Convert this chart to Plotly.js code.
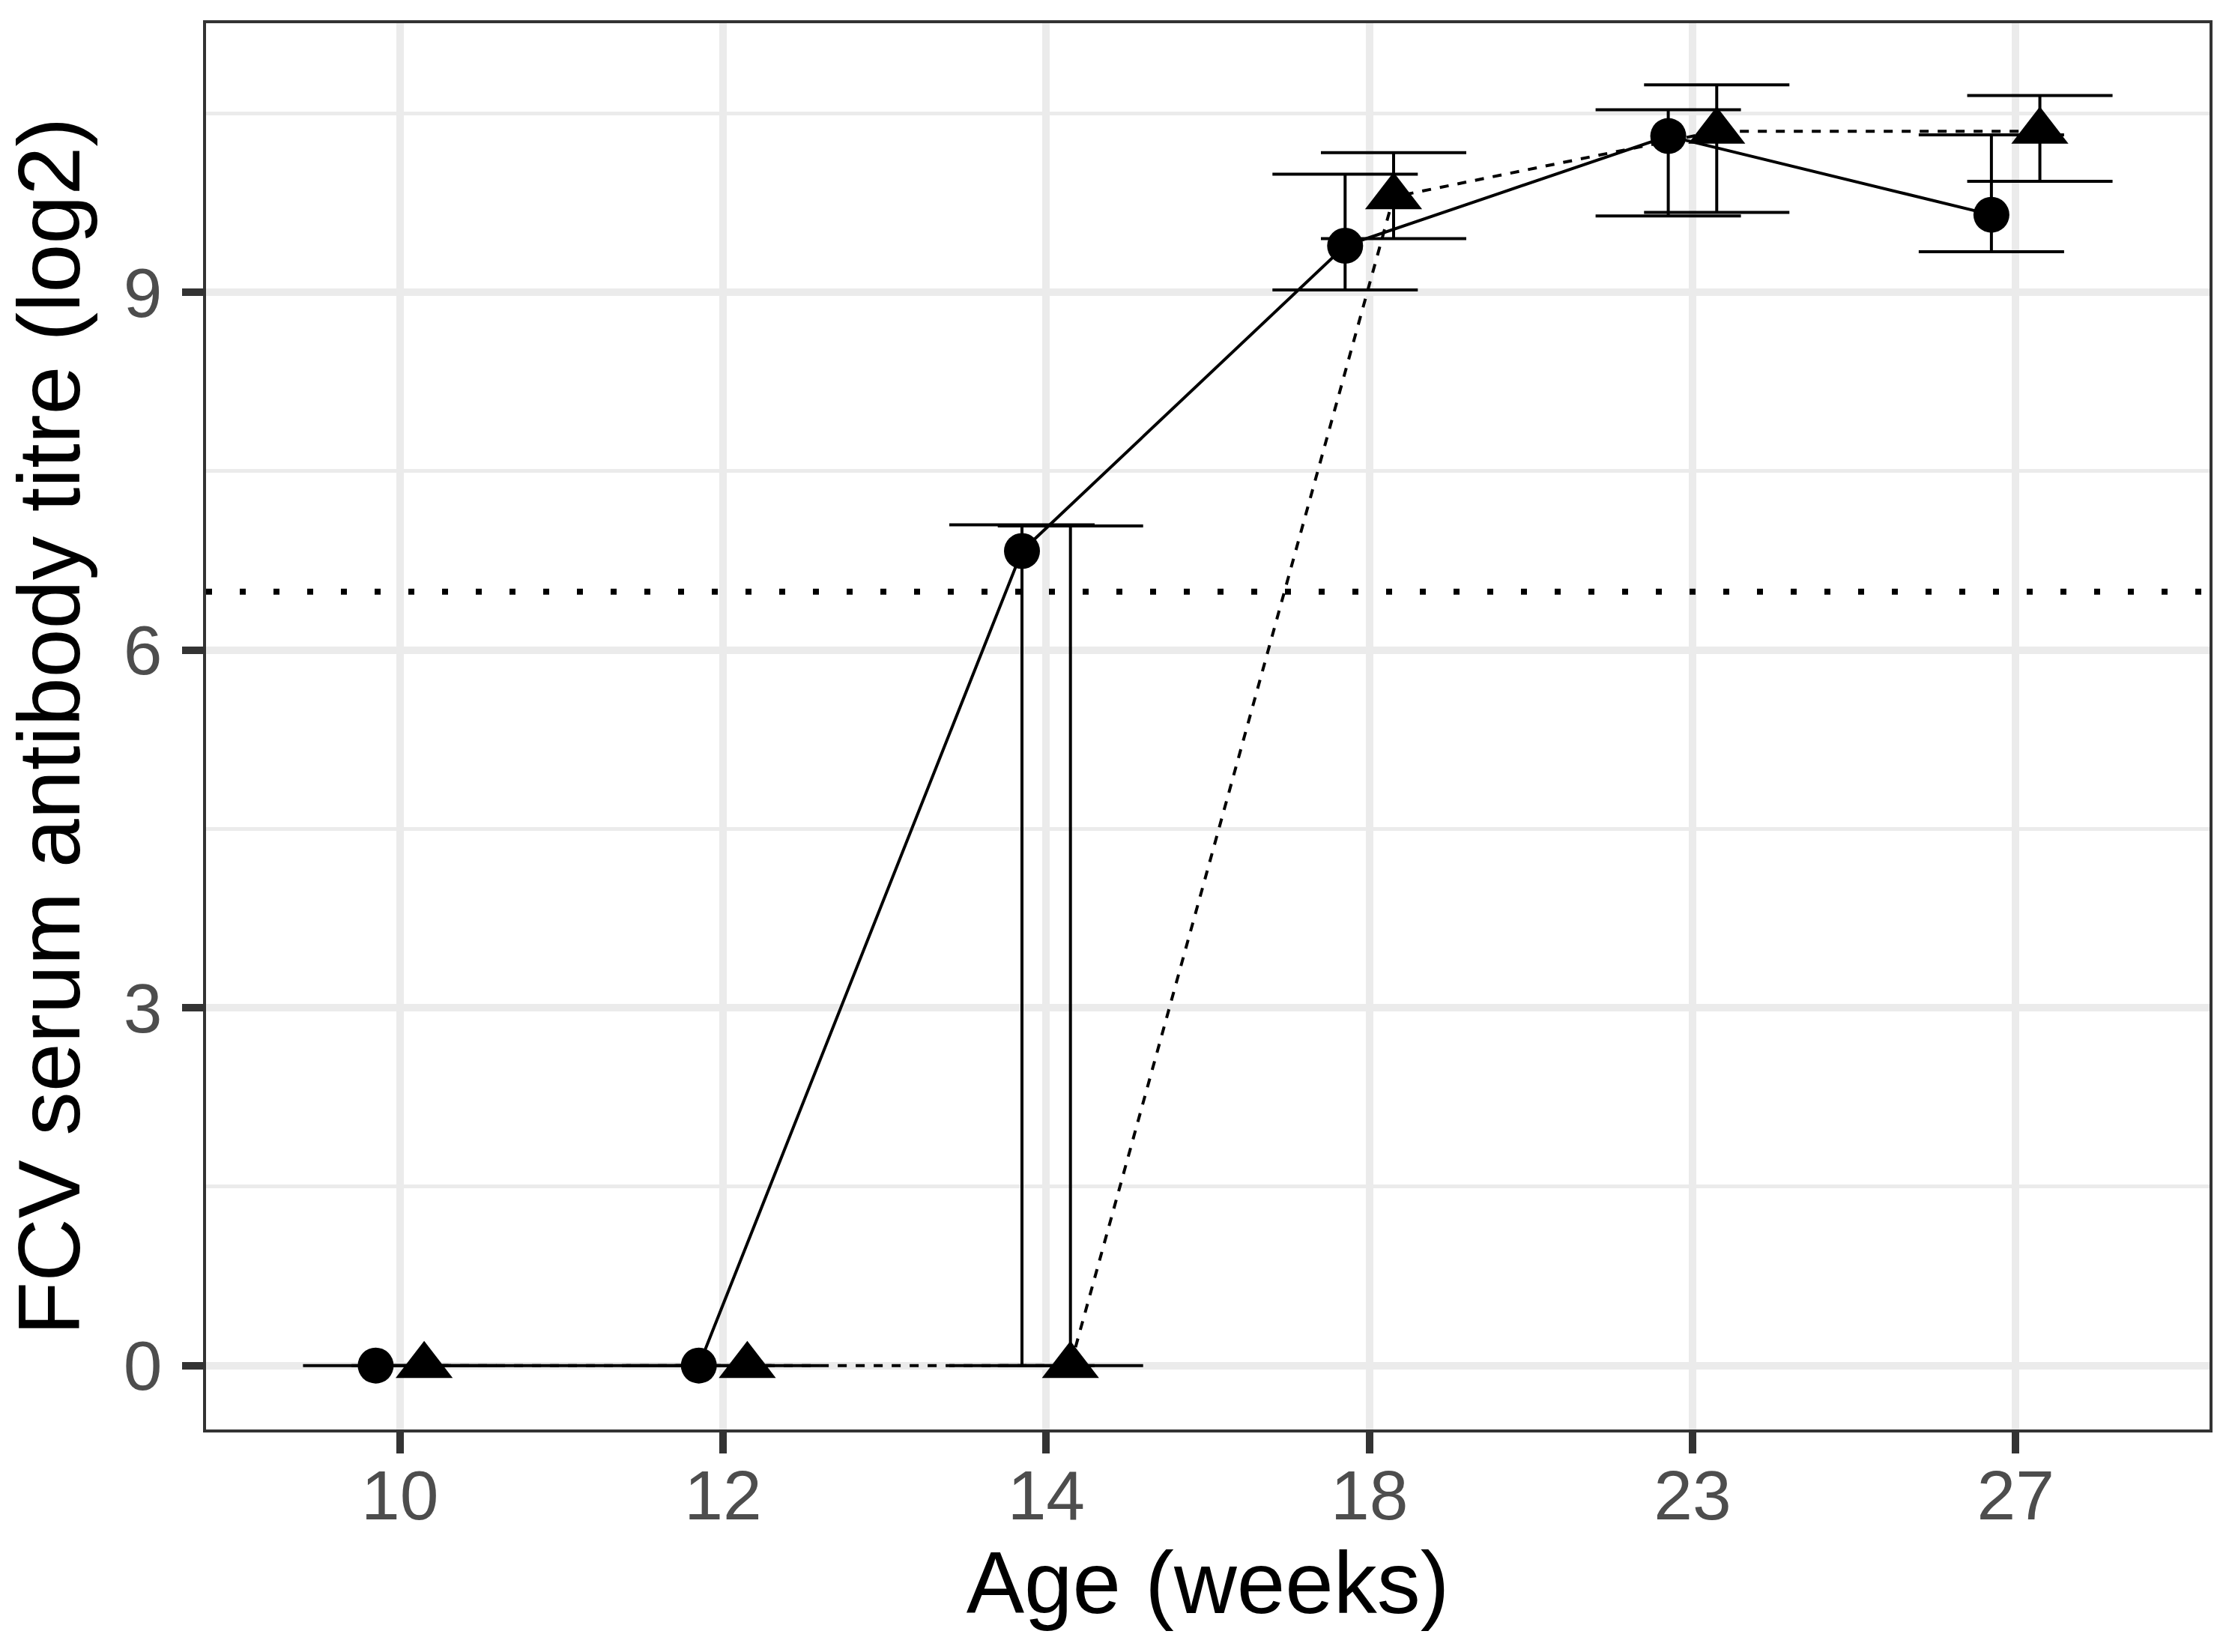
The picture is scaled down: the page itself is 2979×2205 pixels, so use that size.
<!DOCTYPE html>
<html>
<head>
<meta charset="utf-8">
<script src="https://cdn.plot.ly/plotly-3.0.1.min.js"></script>
<style>html,body{margin:0;padding:0;background:#ffffff;}</style>
</head>
<body>
<div id="chart" style="width:2979px;height:2205px;"></div>
<script>
// ---- data ----
const ageWeeks = ['10', '12', '14', '18', '23', '27'];

const circleMean  = [0, 0, 6.83, 9.39, 10.31, 9.65];
const circleUpper = [0, 0, 7.05, 9.99, 10.53, 10.32];
const circleLower = [0, 0, 0,    9.02, 9.64,  9.34];

const triangleMean  = [0, 0, 0,    9.80, 10.35, 10.35];
const triangleUpper = [0, 0, 7.04, 10.17, 10.74, 10.65];
const triangleLower = [0, 0, 0,    9.45, 9.67,  9.93];

const thresholdLevel = 6.49;
const yTicks = [0, 3, 6, 9];
const yMinorTicks = [1.5, 4.5, 7.5, 10.5];

// ---- layout helpers ----
const dodge = 0.075;
const catPos = ageWeeks.map((_, i) => i + 1);
const FONT = 'Liberation Sans, Arial, Helvetica, sans-serif';

function errSpec(mean, upper, lower) {
  return {
    type: 'data', symmetric: false, visible: true,
    array: upper.map((u, i) => u - mean[i]),
    arrayminus: lower.map((l, i) => mean[i] - l),
    color: '#000000', thickness: 4, width: 97
  };
}

const traces = [
  {
    type: 'scatter', mode: 'lines+markers', name: 'circle',
    x: catPos.map(p => p - dodge), y: circleMean,
    line: {color: '#000000', width: 4, dash: 'solid'},
    marker: {symbol: 'circle', size: 48, color: '#000000'},
    error_y: errSpec(circleMean, circleUpper, circleLower),
    showlegend: false, cliponaxis: false
  },
  {
    type: 'scatter', mode: 'lines+markers', name: 'triangle',
    x: catPos.map(p => p + dodge), y: triangleMean,
    line: {color: '#000000', width: 4, dash: '12px,12px'},
    marker: {symbol: 'triangle-up', size: 66, color: '#000000'},
    error_y: errSpec(triangleMean, triangleUpper, triangleLower),
    showlegend: false, cliponaxis: false
  }
];

const layout = {
  width: 2979, height: 2205,
  margin: {l: 275, r: 30, t: 31, b: 297, autoexpand: false},
  paper_bgcolor: '#ffffff', plot_bgcolor: '#ffffff',
  font: {family: FONT, color: '#000000'},
  showlegend: false,
  xaxis: {
    range: [0.4, 6.6],
    tickmode: 'array', tickvals: catPos, ticktext: ageWeeks,
    showgrid: true, gridcolor: '#EBEBEB', gridwidth: 10,
    zeroline: false,
    ticks: 'outside', ticklen: 28, tickwidth: 10, tickcolor: '#333333',
    ticklabelstandoff: -24,
    showline: true, mirror: true, linecolor: '#333333', linewidth: 4,
    tickfont: {family: FONT, size: 93, color: '#4D4D4D'},
    title: {text: 'Age (weeks)', font: {family: FONT, size: 116, color: '#000000'}, standoff: 20}
  },
  yaxis: {
    range: [-0.536, 11.256],
    tickmode: 'array', tickvals: yTicks, ticktext: yTicks.map(String),
    showgrid: true, gridcolor: '#EBEBEB', gridwidth: 10,
    minor: {tickmode: 'array', tickvals: yMinorTicks, showgrid: true, gridcolor: '#EBEBEB', gridwidth: 5, ticks: ''},
    zeroline: false,
    ticks: 'outside', ticklen: 28, tickwidth: 10, tickcolor: '#333333',
    ticklabelstandoff: 8,
    showline: true, mirror: true, linecolor: '#333333', linewidth: 4,
    tickfont: {family: FONT, size: 93, color: '#4D4D4D'},
    title: {text: 'FCV serum antibody titre (log2)', font: {family: FONT, size: 117, color: '#000000'}, standoff: 42}
  },
  shapes: [
    {type: 'line', xref: 'paper', yref: 'y', x0: 0, x1: 1, y0: thresholdLevel, y1: thresholdLevel,
     line: {color: '#000000', width: 8, dash: '8px,37px'}, layer: 'above'}
  ]
};

Plotly.newPlot('chart', traces, layout, {displayModeBar: false, staticPlot: true});
</script>
</body>
</html>
